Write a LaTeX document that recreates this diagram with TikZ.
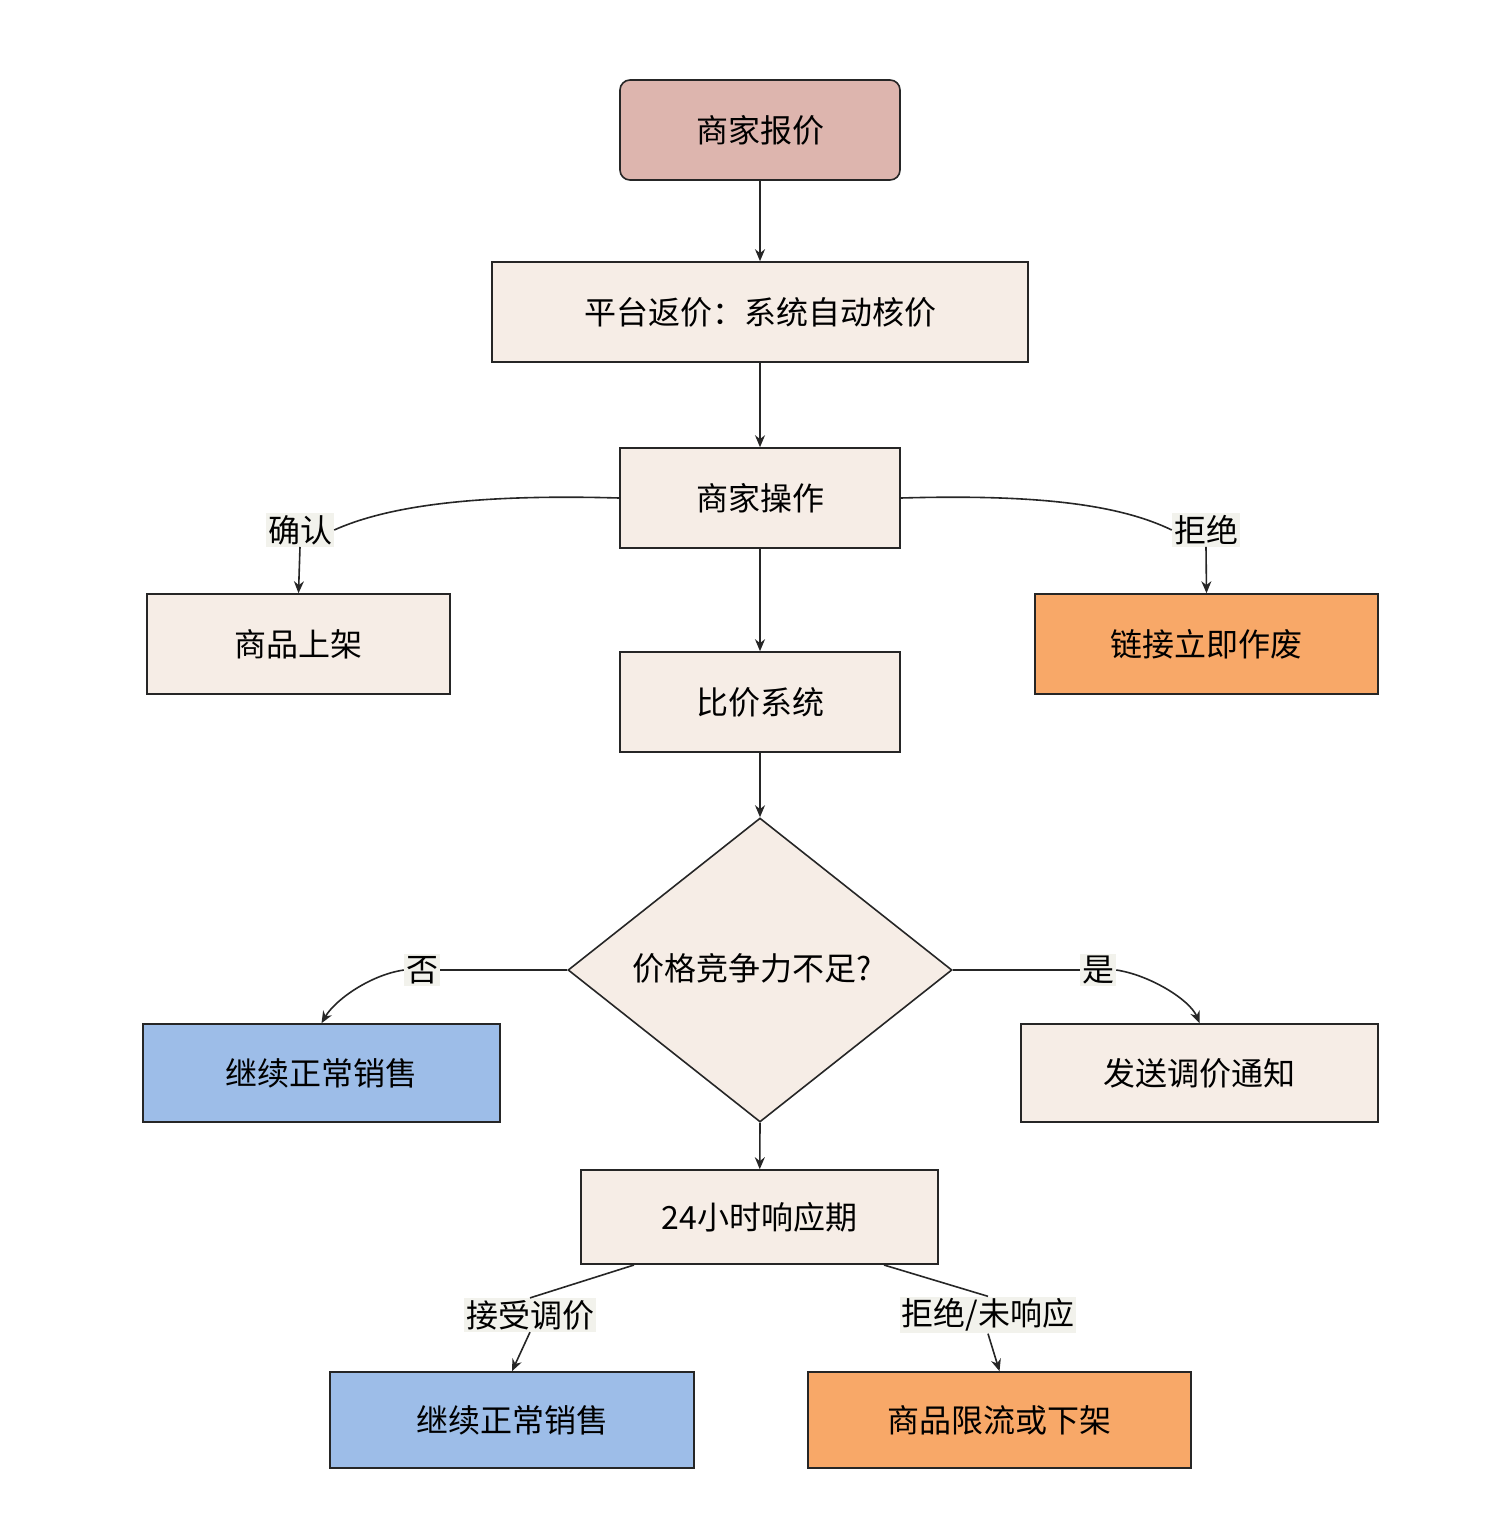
\documentclass[tikz,border=0pt]{standalone}
\usepackage{fontspec}
\setmainfont{Noto Sans CJK SC}
\usetikzlibrary{shapes.geometric,arrows.meta}
\definecolor{pink}{HTML}{DDB5AE}
\definecolor{cream}{HTML}{F6EDE6}
\definecolor{orng}{HTML}{F8A868}
\definecolor{blu}{HTML}{9DBDE8}
\definecolor{lbl}{HTML}{F2F2EC}
\begin{document}
\begin{tikzpicture}[x=1pt,y=-1pt,
  box/.style={draw=black!85,line width=1.6pt,fill=cream,font=\fontsize{32}{36}\selectfont,inner sep=0pt},
  lab/.style={fill=lbl,inner sep=2pt,font=\fontsize{32}{36}\selectfont},
  con/.style={line width=1.6pt,draw=black!85},
  arr/.style={con,-{Stealth[length=12pt,width=10pt]}}]
\useasboundingbox[fill=white] (0,0) rectangle (1487,1535);
\node[box,fill=pink,rounded corners=10pt,minimum width=280,minimum height=100] (n1) at (760,130) {商家报价};
\node[box,minimum width=536,minimum height=100] (n2) at (760,312) {平台返价：系统自动核价};
\node[box,minimum width=280,minimum height=100] (n3) at (760,498) {商家操作};
\node[box,minimum width=303,minimum height=100] (n4) at (298.5,644) {商品上架};
\node[box,fill=orng,minimum width=343,minimum height=100] (n5) at (1206.5,644) {链接立即作废};
\node[box,minimum width=280,minimum height=100] (n6) at (760,702) {比价系统};
\node[box,diamond,minimum width=384,minimum height=304] (d) at (760,970) {};
\node[font=\fontsize{32}{36}\selectfont] (dt) at (752,968) {价格竞争力不足?};
\node[box,fill=blu,minimum width=357,minimum height=98] (n7) at (321.5,1073) {继续正常销售};
\node[box,minimum width=357,minimum height=98] (n8) at (1199.5,1073) {发送调价通知};
\node[box,minimum width=357,minimum height=94] (n9) at (759.5,1217) {24小时响应期};
\node[box,fill=blu,minimum width=364,minimum height=96] (n10) at (512,1420) {继续正常销售};
\node[box,fill=orng,minimum width=383,minimum height=96] (n11) at (999.5,1420) {商品限流或下架};
\draw[arr] (n1) -- (n2);
\draw[arr] (n2) -- (n3);
\draw[arr] (n3) -- (n6);
\draw[arr] (n6) -- (d.north);
\draw[arr] (d.south) -- (n9);
% labels
\node[lab] (l1) at (300,530) {确认};
\node[lab] (l2) at (1206,530) {拒绝};
\node[lab] (l3) at (422,970) {否};
\node[lab] (l4) at (1098,970) {是};
\node[lab] (l5) at (530,1315) {接受调价};
\node[lab] (l6) at (988,1315) {拒绝/未响应};
\draw[con] (n3.west) .. controls (480,494) and (390,505) .. (l1.east);
\draw[arr] (l1.south) -- (n4.north);
\draw[con] (n3.east) .. controls (1040,494) and (1120,505) .. (l2.west);
\draw[arr] (l2.south) -- (n5.north);
\draw[con] (d.west) -- (l3.east);
\draw[arr] (l3.west) .. controls (370,975) and (335,1000) .. (n7.north);
\draw[con] (d.east) -- (l4.west);
\draw[arr] (l4.east) .. controls (1150,975) and (1190,1000) .. (n8.north);
\coordinate (s1) at (634,1265);
\coordinate (s2) at (884,1265);
\draw[con] (s1) -- (l5.north);
\draw[arr] (l5.south) -- (n10.north);
\draw[con] (s2) -- (l6.north);
\draw[arr] (l6.south) -- (n11.north);
\end{tikzpicture}
\end{document}
